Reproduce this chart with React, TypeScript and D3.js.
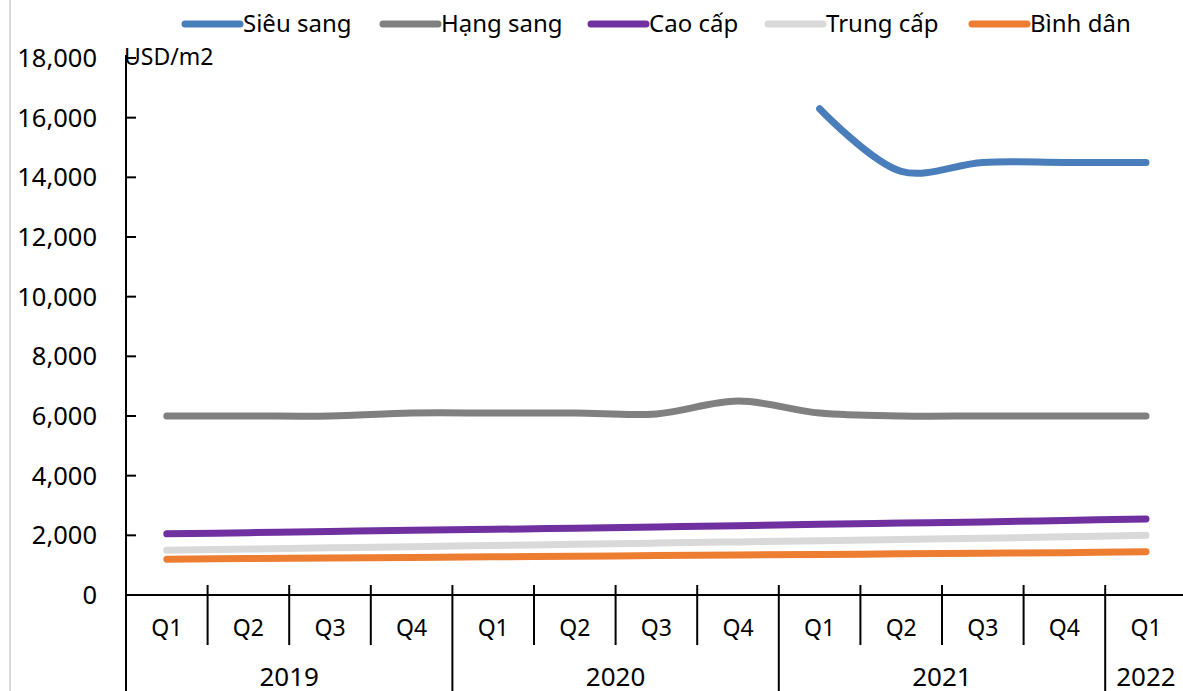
import React from "react";
import * as d3 from "d3";

const quarters = ["Q1", "Q2", "Q3", "Q4", "Q1", "Q2", "Q3", "Q4", "Q1", "Q2", "Q3", "Q4", "Q1"];
const years = [
  { label: "2019", start: 0, count: 4 },
  { label: "2020", start: 4, count: 4 },
  { label: "2021", start: 8, count: 4 },
  { label: "2022", start: 12, count: 1 },
];
const yTicks = [0, 2000, 4000, 6000, 8000, 10000, 12000, 14000, 16000, 18000];

const sieuSang: (number | null)[] = [null, null, null, null, null, null, null, null, 16300, 14200, 14500, 14500, 14500];
const hangSang = [6000, 6000, 6000, 6100, 6100, 6100, 6070, 6500, 6100, 6000, 6000, 6000, 6000];
const caoCap = [2050, 2090, 2130, 2170, 2200, 2240, 2280, 2320, 2370, 2410, 2450, 2500, 2550];
const trungCap = [1500, 1540, 1580, 1620, 1660, 1700, 1740, 1780, 1820, 1860, 1900, 1950, 2000];
const binhDan = [1200, 1220, 1240, 1260, 1280, 1300, 1320, 1340, 1360, 1380, 1400, 1420, 1450];

const series = [
  { name: "Siêu sang", values: sieuSang, color: "#4a7ebb" },
  { name: "Hạng sang", values: hangSang, color: "#808080" },
  { name: "Cao cấp", values: caoCap, color: "#7030a0" },
  { name: "Trung cấp", values: trungCap, color: "#d9d9d9" },
  { name: "Bình dân", values: binhDan, color: "#ed7d31" },
];

const legendX = [185, 383, 591, 768, 972];

const W = 1183;
const H = 691;
const FONT = "'Noto Sans', sans-serif";

export default function App() {
  const left = 126;
  const bandW = 81.6;
  const x = d3
    .scaleBand<number>()
    .domain(quarters.map((_, i) => i))
    .range([left, left + bandW * quarters.length])
    .padding(0);
  const y = d3.scaleLinear().domain([0, 18000]).range([595, 58]);
  const cx = (i: number) => (x(i) as number) + x.bandwidth() / 2;

  const line = d3
    .line<number | null>()
    .defined((d) => d !== null)
    .x((_, i) => cx(i))
    .y((d) => y(d as number))
    .curve(d3.curveCatmullRom.alpha(0.5));

  const y0 = y(0);

  return (
    <svg
      width={W}
      height={H}
      style={{ position: "absolute", left: 0, top: 0, background: "#fff" }}
      fontFamily={FONT}
    >
      <rect x={0} y={0} width={W} height={H} fill="#fff" />
      <line x1={10} x2={10} y1={0} y2={H} stroke="#d9d9d9" strokeWidth={2} />

      {/* legend */}
      {series.map((s, i) => (
        <g key={s.name}>
          <line
            x1={legendX[i]}
            x2={legendX[i] + 55}
            y1={24}
            y2={24}
            stroke={s.color}
            strokeWidth={7}
            strokeLinecap="round"
          />
          <text x={legendX[i] + 58} y={24} dy="0.35em" fontSize={24} fill="#000">
            {s.name}
          </text>
        </g>
      ))}

      {/* y axis */}
      <line x1={left} x2={left} y1={55} y2={H} stroke="#000" strokeWidth={2} />
      {yTicks.map((t) => (
        <g key={t}>
          <line x1={left} x2={left + 10} y1={y(t)} y2={y(t)} stroke="#000" strokeWidth={2} />
          <text x={97} y={y(t)} dy="0.35em" textAnchor="end" fontSize={25.5} fill="#000">
            {d3.format(",")(t)}
          </text>
        </g>
      ))}
      <text x={124} y={57} dy="0.35em" fontSize={23} fill="#000">
        USD/m2
      </text>

      {/* x axis */}
      <line x1={left} x2={W} y1={y0} y2={y0} stroke="#000" strokeWidth={2} />
      {quarters.map((q, i) => {
        const bx = x(i) as number;
        const isYearStart = years.some((yr) => yr.start === i);
        return (
          <g key={i}>
            {i > 0 && (
              <line
                x1={bx}
                x2={bx}
                y1={y0 - 10}
                y2={isYearStart ? H : 645}
                stroke="#000"
                strokeWidth={2}
              />
            )}
            <text x={cx(i)} y={628} dy="0.35em" textAnchor="middle" fontSize={23} fill="#000">
              {q}
            </text>
          </g>
        );
      })}
      {years.map((yr) => {
        const x0 = x(yr.start) as number;
        const mid = x0 + (bandW * yr.count) / 2;
        return (
          <text key={yr.label} x={mid} y={677} dy="0.35em" textAnchor="middle" fontSize={26} fill="#000">
            {yr.label}
          </text>
        );
      })}

      {/* lines */}
      {series.map((s) => (
        <path
          key={s.name}
          d={line(s.values) || ""}
          fill="none"
          stroke={s.color}
          strokeWidth={7}
          strokeLinecap="round"
          strokeLinejoin="round"
        />
      ))}
    </svg>
  );
}
